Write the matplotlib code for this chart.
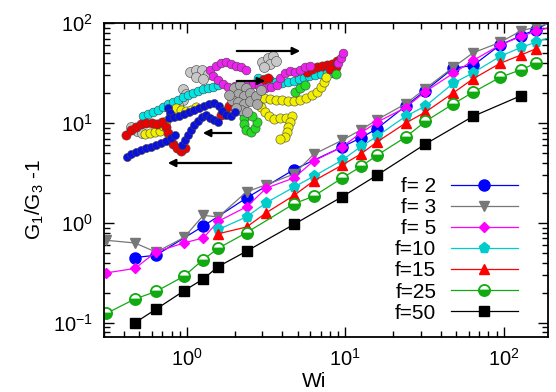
import matplotlib
matplotlib.use("Agg")
import matplotlib.pyplot as plt

# ==============================
# DATA
# ==============================
wi_f2 = [0.47, 0.64, 1.27, 2.38, 4.75, 9.5, 12.6, 15.8, 24, 32, 48, 64, 95, 129, 159, 215]
g_f2 = [0.45, 0.475, 0.93, 1.78, 3.43, 5.75, 7.14, 8.79, 14.8, 21.2, 35.5, 37.8, 60.8, 75.3, 86.5, 111]

wi_f3 = [0.31, 0.47, 0.64, 0.96, 1.27, 1.58, 2.38, 3.18, 4.75, 6.3, 9.5, 12.6, 15.8, 24, 32, 48, 64, 95, 129, 159, 215]
g_f3 = [0.67, 0.63, 0.51, 0.715, 1.19, 1.15, 2.05, 2.42, 3.09, 4.86, 6.71, 8.6, 10.8, 15.6, 22.2, 36.3, 50.6, 64.6, 84.5, 91.2, 105]

wi_f5 = [0.31, 0.47, 0.64, 0.96, 1.27, 1.58, 2.38, 3.18, 4.75, 6.3, 9.5, 12.6, 15.8, 24, 32, 48, 64, 95, 129, 159, 215]
g_f5 = [0.316, 0.35, 0.513, 0.631, 0.708, 1.04, 1.45, 2.24, 2.83, 4.17, 5.75, 8.02, 10.2, 14.3, 20.7, 31.6, 42.4, 60.8, 74.1, 83.2, 95]

wi_f10 = [1.58, 2.38, 3.18, 4.75, 6.3, 9.5, 12.6, 15.8, 24, 32, 48, 64, 95, 129, 159, 215]
g_f10 = [0.86, 1.15, 1.6, 2.29, 2.93, 4.24, 5.85, 7.36, 11.7, 14.8, 25.1, 31.9, 46.8, 57.5, 64.6, 76]

wi_f15 = [1.58, 2.38, 3.18, 4.75, 6.3, 9.5, 12.6, 15.8, 24, 32, 48, 64, 95, 129, 159]
g_f15 = [0.78, 0.91, 1.27, 1.89, 2.63, 3.78, 4.94, 6.46, 10.0, 12.9, 20.1, 27.8, 39.8, 48.3, 55.5]

wi_f25 = [0.31, 0.47, 0.64, 0.96, 1.27, 1.58, 2.38, 4.75, 6.3, 9.5, 12.6, 15.8, 24, 32, 48, 64, 95, 129, 159]
g_f25 = [0.124, 0.173, 0.206, 0.293, 0.43, 0.558, 0.80, 1.56, 1.85, 2.8, 3.69, 4.75, 7.24, 10.4, 15.6, 20.4, 28.8, 34.4, 39.8]

wi_f50 = [0.47, 0.64, 0.96, 1.27, 1.58, 2.38, 4.75, 9.5, 15.8, 32, 64, 129]
g_f50 = [0.10, 0.137, 0.209, 0.275, 0.366, 0.521, 0.97, 1.82, 3.0, 6.17, 11.7, 18.9]

labels = ["f= 2", "f= 3", "f= 5", "f=10", "f=15", "f=25", "f=50"]

# inset picture: bead chains (pixel coordinates of the figure)
beads_lightgray = [(190, 72), (196, 70), (202, 70), (208, 74), (196, 77), (203, 79), (183, 89), (186, 94),
                   (183, 100), (178, 105), (131, 127), (137, 131), (142, 133), (262, 62), (268, 58),
                   (273, 56), (270, 64), (276, 61), (264, 67)]
beads_cyan = [(143, 116), (148, 114), (153, 112), (158, 110), (163, 107), (168, 104), (173, 102), (178, 100),
              (183, 97), (188, 95), (193, 93), (198, 91), (203, 89), (208, 88), (213, 87), (218, 85),
              (258, 78), (264, 79), (270, 80), (276, 82), (282, 83), (288, 82), (294, 81), (299, 79),
              (304, 78), (309, 76), (315, 75), (321, 74), (327, 73), (333, 73)]
beads_yellow = [(145, 134), (150, 133), (155, 132), (160, 131), (163, 126), (166, 121), (176, 108), (181, 110),
                (186, 111), (191, 110), (196, 107), (247, 100), (252, 98), (257, 102), (261, 107), (265, 112),
                (269, 116), (274, 119), (280, 118), (286, 118), (292, 116), (290, 122), (288, 127), (287, 132),
                (285, 137), (280, 139), (264, 98), (270, 99), (276, 100), (282, 100), (288, 101), (294, 101),
                (300, 100), (306, 98), (312, 95), (317, 92), (321, 87), (324, 82), (326, 77)]
beads_red = [(126, 135), (131, 130), (136, 127), (141, 124), (146, 123), (152, 123), (157, 124), (162, 122),
             (166, 127), (168, 133), (170, 139), (173, 144), (177, 148), (181, 151), (185, 148), (221, 115),
             (225, 111), (229, 106), (263, 80), (268, 78), (307, 72), (312, 69), (317, 67), (322, 66),
             (327, 65), (332, 64), (337, 61), (336, 67), (330, 69)]
beads_green = [(243, 112), (244, 118), (244, 124), (246, 130), (251, 132), (255, 128), (257, 122), (252, 116),
               (295, 92), (300, 88), (305, 85), (336, 74)]
beads_magenta = [(210, 70), (216, 66), (221, 63), (226, 62), (231, 64), (236, 66), (241, 67), (246, 70),
                 (213, 76), (218, 80), (223, 84), (228, 87), (235, 86), (241, 85), (247, 85), (253, 84),
                 (259, 86), (265, 88), (271, 87), (277, 85), (280, 78), (285, 73), (290, 71), (295, 72),
                 (300, 70), (305, 67), (310, 66), (338, 63), (341, 58), (343, 53)]
beads_blue = [(127, 157), (131, 154), (136, 152), (141, 150), (146, 148), (151, 147), (156, 145), (161, 143),
              (166, 141), (171, 138), (175, 135), (168, 108), (170, 113), (169, 118), (174, 117), (179, 116),
              (184, 114), (189, 112), (194, 110), (199, 108), (204, 106), (209, 104), (214, 103), (219, 106),
              (222, 111), (226, 115), (231, 116), (235, 112), (182, 145), (185, 140), (188, 135), (191, 130),
              (194, 125), (198, 121), (202, 117), (206, 115), (210, 118), (214, 120), (218, 122)]
beads_darkgray = [(234, 88), (240, 85), (246, 88), (238, 94), (244, 96), (250, 93), (232, 100), (238, 102),
                  (244, 104), (250, 101), (241, 110), (247, 112), (256, 96), (257, 104), (261, 90), (236, 108),
                  (229, 95)]

# arrows in the inset: (start, end)
arrows = [((234, 51), (303, 51)), ((234, 81), (268, 81)), ((234, 133), (200, 133)), ((234, 163), (165, 163))]

# ==============================
# STYLE
# ==============================
plt.rcParams["font.family"] = ["Liberation Sans", "DejaVu Sans"]
plt.rcParams["mathtext.default"] = "regular"

fig = plt.figure(figsize=(5.56, 3.92), dpi=100)
ax = fig.add_axes([104 / 556, 1 - 337 / 392, 444 / 556, 313.7 / 392])

ax.plot(wi_f2, g_f2, "-o", color="#0000ff", lw=0.9, ms=8, label=labels[0])
ax.plot(wi_f3, g_f3, "-v", color="#777777", lw=0.9, ms=7, label=labels[1])
ax.plot(wi_f5, g_f5, "-D", color="#ff00ff", lw=0.9, ms=5.5, label=labels[2])
ax.plot(wi_f10, g_f10, "-p", color="#00cccc", lw=0.9, ms=8, label=labels[3])
ax.plot(wi_f15, g_f15, "-^", color="#ff0000", lw=0.9, ms=7, label=labels[4])
ax.plot(wi_f25, g_f25, "-o", color="#11aa11", lw=0.9, ms=8, fillstyle="bottom",
        markerfacecoloralt="white", markeredgecolor="#11aa11", markeredgewidth=1.3, label=labels[5])
ax.plot(wi_f50, g_f50, "-s", color="black", lw=0.9, ms=7, label=labels[6])

ax.set_xscale("log")
ax.set_yscale("log")
ax.set_xlim(0.3, 190)
ax.set_ylim(0.072, 100)

for s in ax.spines.values():
    s.set_linewidth(1.3)
ax.tick_params(which="both", direction="in", top=True, right=True, labelsize=14.5, pad=8, width=1.0)
ax.tick_params(which="major", length=7)
ax.tick_params(which="minor", length=4)

ax.set_xlabel("Wi", fontsize=15)
ax.xaxis.set_label_coords(0.473, -0.112)
ax.set_ylabel("G$_1$/G$_3$ -1", fontsize=15)
ax.yaxis.set_label_coords(-0.13, 0.44)

ax.legend(loc="lower right", bbox_to_anchor=(528 / 556, 1 - 333 / 392), bbox_transform=fig.transFigure,
          frameon=False, markerfirst=False, fontsize=15, handlelength=3.2, handletextpad=0.7,
          labelspacing=0.1, borderpad=0, numpoints=1)

# ==============================
# INSET PICTURE (bead chains)
# ==============================
ov = fig.add_axes([0, 0, 1, 1])
ov.set_xlim(0, 556)
ov.set_ylim(392, 0)
ov.axis("off")

chains = [
    (beads_lightgray, "#c8c8c8", 52),
    (beads_cyan, "#00e5e5", 40),
    (beads_yellow, "#f2f000", 44),
    (beads_red, "#ee0000", 44),
    (beads_green, "#22dd22", 44),
    (beads_magenta, "#ee22ee", 40),
    (beads_darkgray, "#a8a8a8", 52),
    (beads_blue, "#0a10dd", 34),
]
for pts, col, size in chains:
    xs = [p[0] for p in pts]
    ys = [p[1] for p in pts]
    ov.scatter(xs, ys, s=size, color=col, edgecolors="#444444", linewidths=0.4)

for start, end in arrows:
    ov.annotate("", xy=end, xytext=start,
                arrowprops=dict(arrowstyle="-|>", color="black", lw=1.6, mutation_scale=11))

fig.savefig("out.png", dpi=100)
print("saved out.png")
